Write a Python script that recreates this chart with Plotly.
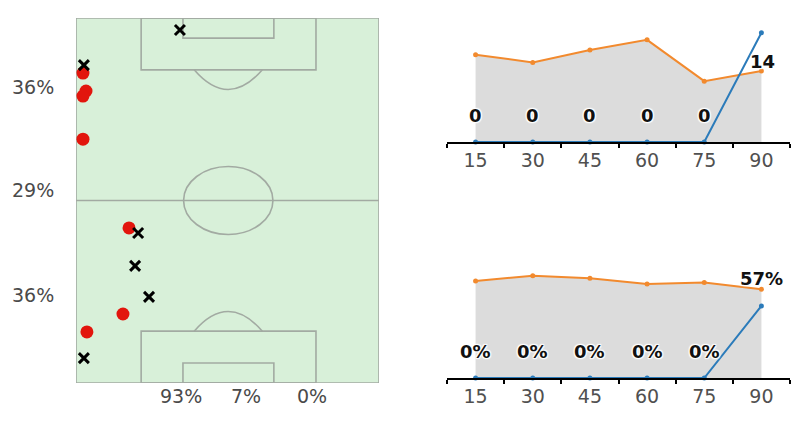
import plotly.graph_objects as go

# pitch events (x: 0-100 left->right, y: 0-100 top->bottom)
dots_x = [2.3, 3.3, 2.3, 2.3, 17.5, 15.5, 3.6]
dots_y = [15.1, 20.0, 21.4, 33.2, 57.5, 81.1, 86.0]
cross_x = [34.3, 2.6, 20.5, 19.5, 24.1, 2.6]
cross_y = [3.3, 12.9, 58.9, 67.9, 76.4, 93.2]

row_labels = ["36%", "29%", "36%"]
row_pos = [18.9, 47.1, 75.9]
col_labels = ["93%", "7%", "0%"]
col_pos = [34.6, 56.0, 78.0]

# timelines
minutes = [15, 30, 45, 60, 75, 90]
top_orange = [11.2, 10.2, 11.8, 13.1, 7.8, 9.1]
top_blue = [0, 0, 0, 0, 0, 14]
bot_orange = [76.8, 81.0, 78.9, 74.4, 75.5, 70.2]
bot_blue = [0, 0, 0, 0, 0, 57]

W, H = 803, 424
ORANGE = "#f28a2e"
BLUE = "#2b7bba"
GREY_FILL = "#dcdcdc"
LINE = "#a2aaa2"
FONT = "DejaVu Sans"

fig = go.Figure()

def px(x):
    return x / W

def py(y):
    return 1 - y / H

# ---- pitch ----
fig.update_layout(
    xaxis=dict(domain=[px(76), px(379)], range=[0, 100], visible=False, fixedrange=True),
    yaxis=dict(domain=[py(383), py(18)], range=[100, 0], visible=False, fixedrange=True),
)

def rect(x0, y0, x1, y1, fill=None):
    fig.add_shape(type="rect", xref="x", yref="y", x0=x0, y0=y0, x1=x1, y1=y1,
                  line=dict(color=LINE, width=1.6), fillcolor=fill, layer="below")

rect(0, 0, 100, 100, "#d8f0d9")
fig.add_shape(type="line", xref="x", yref="y", x0=0, x1=100, y0=50, y1=50,
              line=dict(color=LINE, width=1.6), layer="below")
fig.add_shape(type="circle", xref="x", yref="y", x0=35.5, x1=65.0, y0=40.7, y1=59.3,
              line=dict(color=LINE, width=1.6), layer="below")
# boxes
rect(21.5, 0, 79.2, 14.2)
rect(35.3, 0, 65.3, 5.5)
rect(21.5, 85.8, 79.2, 100)
rect(35.3, 94.5, 65.3, 100)
# arcs
fig.add_shape(type="path", xref="x", yref="y",
              path="M 39.0 14.2 Q 50.2 25.0 61.5 14.2",
              line=dict(color=LINE, width=1.6), layer="below")
fig.add_shape(type="path", xref="x", yref="y",
              path="M 39.0 85.8 Q 50.2 75.0 61.5 85.8",
              line=dict(color=LINE, width=1.6), layer="below")

fig.add_trace(go.Scatter(x=dots_x, y=dots_y, mode="markers", xaxis="x", yaxis="y",
                         marker=dict(color="#e2150d", size=13), showlegend=False))
fig.add_trace(go.Scatter(x=cross_x, y=cross_y, mode="markers", xaxis="x", yaxis="y",
                         marker=dict(symbol="x-thin", size=10, line=dict(color="black", width=3)),
                         showlegend=False))

for t, p in zip(row_labels, row_pos):
    fig.add_annotation(xref="paper", yref="y", x=px(33), y=p, text=t, showarrow=False,
                       xanchor="center", yanchor="middle",
                       font=dict(family=FONT, size=19, color="#4a4a4a"))
for t, p in zip(col_labels, col_pos):
    fig.add_annotation(xref="x", yref="paper", x=p, y=py(396), text=t, showarrow=False,
                       xanchor="center", yanchor="middle",
                       font=dict(family=FONT, size=19, color="#4a4a4a"))

# ---- timelines ----
panels = [
    ("x2", "y2", top_orange, top_blue, 142, 25, 15.0, [str(v) for v in top_blue]),
    ("x3", "y3", bot_orange, bot_blue, 378, 261, 92.6, [f"{v}%" for v in bot_blue]),
]
halo = "1px 1px 1px white, -1px -1px 1px white, 1px -1px 1px white, -1px 1px 1px white, 0 0 3px white"

for xa, ya, orange, blue, base, top, ymax, labels in panels:
    n = xa[1:]
    fig.layout["xaxis" + n] = dict(
        domain=[px(447), px(790)], range=[7.5, 97.5], anchor=ya, fixedrange=True,
        showline=True, linecolor="black", linewidth=2, showgrid=False, zeroline=False,
        tickmode="array", tickvals=minutes, ticks="",
        tickfont=dict(family=FONT, size=19, color="#505050"),
        minor=dict(tickmode="array", tickvals=[7.5 + 15 * i for i in range(7)],
                   ticks="outside", ticklen=4, tickwidth=2, tickcolor="black", showgrid=False),
    )
    fig.layout["yaxis" + n] = dict(domain=[py(base), py(top)], range=[0, ymax],
                                   visible=False, fixedrange=True)
    fig.add_trace(go.Scatter(x=minutes, y=orange, xaxis=xa, yaxis=ya, mode="lines+markers",
                             fill="tozeroy", fillcolor=GREY_FILL,
                             line=dict(color=ORANGE, width=2), marker=dict(size=5, color=ORANGE),
                             showlegend=False))
    fig.add_trace(go.Scatter(x=minutes, y=blue, xaxis=xa, yaxis=ya, mode="lines+markers",
                             line=dict(color=BLUE, width=2), marker=dict(size=5, color=BLUE),
                             showlegend=False, cliponaxis=False))
    for m, v, t in zip(minutes, blue, labels):
        shift = 27
        xs = 0
        if v == max(blue) and xa == "x2":
            shift = -29
            xs = 1
        fig.add_annotation(xref=xa, yref=ya, x=m, y=v, text=t, showarrow=False,
                           xanchor="center", yshift=shift, xshift=xs,
                           font=dict(family=FONT, size=18, color="#111", weight="bold", shadow=halo))

fig.update_layout(width=W, height=H, margin=dict(l=0, r=0, t=0, b=0),
                  paper_bgcolor="white", plot_bgcolor="rgba(0,0,0,0)")

fig.write_html("out.html", config={"displayModeBar": False},
               post_script="document.body.style.margin='0';")
